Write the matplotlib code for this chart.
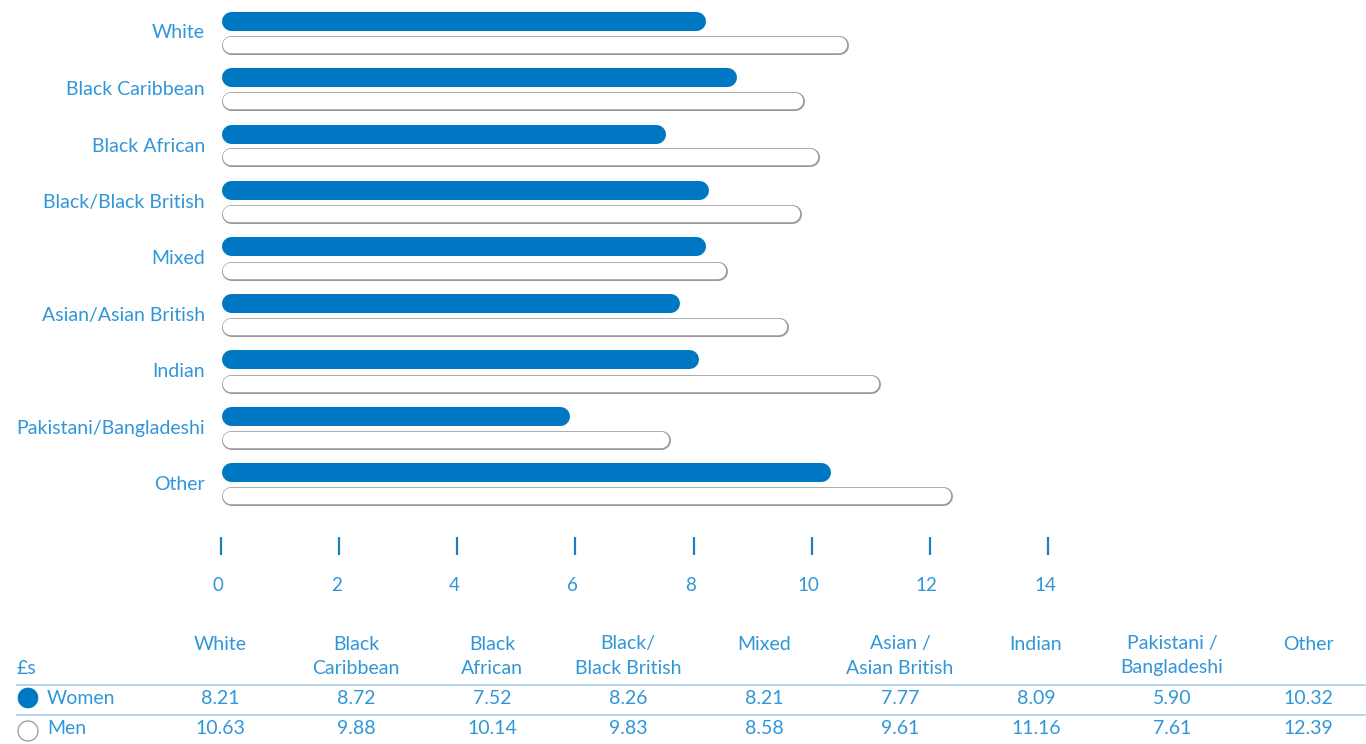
import matplotlib
matplotlib.use("Agg")
import matplotlib.pyplot as plt
from matplotlib.lines import Line2D
from matplotlib.patches import Circle
import matplotlib.transforms as mtransforms

# Hourly pay (£) by ethnic group
categories = ["White", "Black Caribbean", "Black African", "Black/Black British",
              "Mixed", "Asian/Asian British", "Indian", "Pakistani/Bangladeshi", "Other"]
table_headers = ["White", "Black\nCaribbean", "Black\nAfrican", "Black/\nBlack British",
                 "Mixed", "Asian /\nAsian British", "Indian", "Pakistani /\nBangladeshi", "Other"]
women = [8.21, 8.72, 7.52, 8.26, 8.21, 7.77, 8.09, 5.90, 10.32]
men = [10.63, 9.88, 10.14, 9.83, 8.58, 9.61, 11.16, 7.61, 12.39]
x_ticks = [0, 2, 4, 6, 8, 10, 12, 14]

W, H = 1366, 744
DPI = 100
BLUE = "#0077c2"
TEXT_BLUE = "#3196d8"
TICK_BLUE = "#1a7fc6"
GREY = "#9a9a9a"
RULE = "#a9cdec"
FONT_W = "normal"

plt.rcParams["font.family"] = ["Lato", "DejaVu Sans"]

fig = plt.figure(figsize=(W / DPI, H / DPI), dpi=DPI)

# axes: x from 0 to 14 over pixels 221..1048, y from pixel 0 to 555
ax_left, ax_right, ax_top, ax_bottom = 221, 1048, 0, 555
ax = fig.add_axes([ax_left / W, 1 - ax_bottom / H,
                   (ax_right - ax_left) / W, (ax_bottom - ax_top) / H])
row_px = 56.5
ax_h_units = (ax_bottom - ax_top) / row_px
top_lim = -32.5 / row_px
ax.set_ylim(top_lim + ax_h_units, top_lim)
ax.set_xlim(0, 14)

px_per_unit_x = (ax_right - ax_left) / 14.0
bar_px = 19
pt = 72.0 / DPI
r_units = (bar_px / 2) / px_per_unit_x
off = 12 / row_px
outline_px = 1.3

for i, (wv, mv) in enumerate(zip(women, men)):
    yw = i - off
    ym = i + off
    ax.plot([r_units, wv - r_units], [yw, yw], color=BLUE, lw=bar_px * pt,
            solid_capstyle="round", zorder=3)
    ax.plot([r_units, mv - r_units], [ym, ym], color=GREY, lw=bar_px * pt,
            solid_capstyle="round", zorder=3)
    ax.plot([r_units, mv - r_units], [ym, ym], color="white",
            lw=(bar_px - 2 * outline_px) * pt, solid_capstyle="round", zorder=4)

ax.set_yticks(range(len(categories)))
ax.set_yticklabels(categories)
ax.tick_params(axis="y", length=0, pad=11.5, labelsize=14, labelcolor=TEXT_BLUE)
for lbl in ax.get_yticklabels():
    lbl.set_fontweight(FONT_W)
    lbl.set_transform(lbl.get_transform() +
                      mtransforms.ScaledTranslation(0, 1 / DPI, fig.dpi_scale_trans))

ax.set_xticks(x_ticks)
ax.set_xticklabels([str(t) for t in x_ticks])
ax.tick_params(axis="x", direction="in", length=18 * pt, width=2.2 * pt,
               color=TICK_BLUE, pad=15.5, labelsize=13.5, labelcolor=TEXT_BLUE)
shift = mtransforms.ScaledTranslation(-3 / DPI, 0, fig.dpi_scale_trans)
for lbl in ax.get_xticklabels():
    lbl.set_fontweight(FONT_W)
    lbl.set_transform(lbl.get_transform() + shift)

for s in ax.spines.values():
    s.set_visible(False)
ax.patch.set_alpha(0)


def fx(px):
    return px / W


def fy(py):
    return 1 - py / H


# data table below the chart
col_x0, col_step = 220, 136
tkw = dict(color=TEXT_BLUE, fontsize=14, fontweight=FONT_W)
for j, head in enumerate(table_headers):
    cx = col_x0 + j * col_step
    for k, line in enumerate(head.split("\n")):
        fig.text(fx(cx), fy(644 + 24 * k), line, ha="center", va="center", **tkw)
    fig.text(fx(cx), fy(698), f"{women[j]:.2f}", ha="center", va="center", **tkw)
    fig.text(fx(cx), fy(729), f"{men[j]:.2f}", ha="center", va="center", **tkw)

fig.text(fx(17), fy(668), "£s", ha="left", va="center", **tkw)
fig.text(fx(47), fy(698), "Women", ha="left", va="center", **tkw)
fig.text(fx(47), fy(729), "Men", ha="left", va="center", **tkw)

for yy in (685, 715):
    fig.add_artist(Line2D([fx(17), fx(1366)], [fy(yy), fy(yy)],
                          color=RULE, lw=1.6 * pt, transform=fig.transFigure))

# legend markers in the table, on a pixel-space overlay
leg_ax = fig.add_axes([0, 0, 1, 1], zorder=-1)
leg_ax.set_xlim(0, W)
leg_ax.set_ylim(H, 0)
leg_ax.axis("off")
leg_ax.add_patch(Circle((28, 731), 10, facecolor="white", edgecolor=GREY, lw=1.3 * pt))
leg_ax.add_patch(Circle((28, 698), 10, facecolor=BLUE, edgecolor=BLUE, lw=0.5))

fig.savefig("out.png", dpi=DPI)
